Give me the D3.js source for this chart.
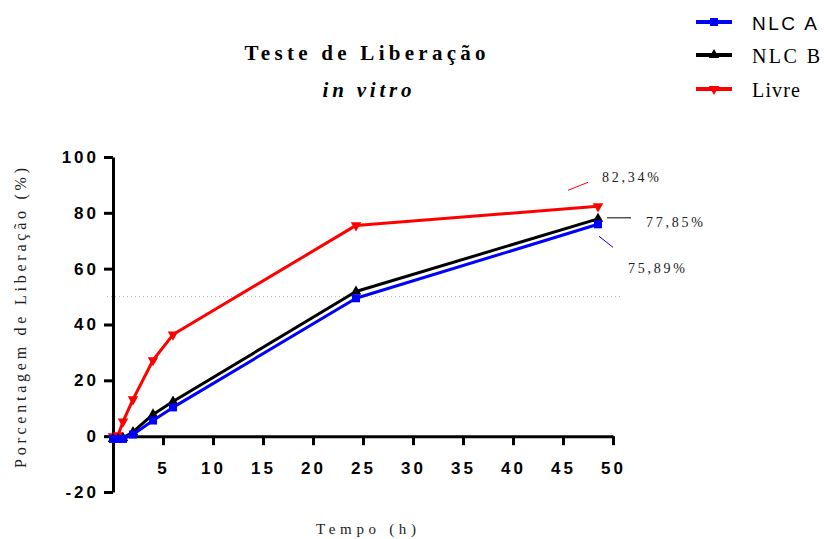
<!DOCTYPE html>
<html>
<head>
<meta charset="utf-8">
<script src="https://cdn.jsdelivr.net/npm/d3@7"></script>
<style>
  body { margin: 0; background: #fff; }
  svg { display: block; }
  .serif { font-family: 'Liberation Serif', 'DejaVu Serif', serif; }
  .sans { font-family: 'Liberation Sans', Arial, sans-serif; }
</style>
</head>
<body>
<svg width="824" height="539"></svg>
<script>
// Release test data (hours / % released)
const hours = [0, 0.5, 1, 2, 4, 6, 24.3, 48.5];
const nlcA = [-1, -1, -1, 0.6, 5.6, 10.3, 49.4, 75.89];
const nlcB = [-1, -1, -0.6, 1.5, 7.8, 12.4, 51.8, 77.85];
const livre = [0, 0.3, 5.2, 13.2, 27.2, 36.4, 75.5, 82.34];
const seriesNames = ['NLC A', 'NLC B', 'Livre'];
const endLabels = ['75,89%', '77,85%', '82,34%'];
const xTicks = [5, 10, 15, 20, 25, 30, 35, 40, 45, 50];
const yTicks = [-20, 0, 20, 40, 60, 80, 100];
const refLine = 50;

const svg = d3.select('svg');

const x = d3.scaleLinear().domain([0, 50]).range([113, 613]);
const y = d3.scaleLinear().domain([-20, 100]).range([492, 157]);

const colors = { 'NLC A': '#0000ff', 'NLC B': '#000000', Livre: '#ff0000' };
const sym = {
  'NLC A': d3.symbol().type(d3.symbolSquare).size(64),
  'NLC B': d3.symbol().type(d3.symbolTriangle).size(48),
  Livre: d3.symbol().type(d3.symbolTriangle).size(48)
};
const values = { 'NLC A': nlcA, 'NLC B': nlcB, Livre: livre };

// dotted reference line at 50 %
svg.append('line')
  .attr('x1', x(0) - 6).attr('x2', x(50) + 7)
  .attr('y1', y(refLine)).attr('y2', y(refLine))
  .attr('stroke', '#b8b8b8').attr('stroke-width', 1)
  .attr('stroke-dasharray', '1,3');

// Axes
const tickFont = g => g.selectAll('text')
  .attr('class', 'sans')
  .attr('font-family', null)
  .attr('font-weight', 'bold')
  .attr('font-size', 17)
  .attr('letter-spacing', 3)
  .attr('fill', '#000');

const yAxis = svg.append('g')
  .attr('transform', `translate(${x(0)},0)`)
  .call(d3.axisLeft(y).tickValues(yTicks).tickFormat(d => String(d))
    .tickSize(9).tickSizeOuter(0).tickPadding(5))
  .call(tickFont);

const xAxis = svg.append('g')
  .attr('transform', `translate(0,${y(0)})`)
  .call(d3.axisBottom(x).tickValues(xTicks).tickFormat(d => String(d))
    .tickSize(9).tickSizeOuter(0).tickPadding(17))
  .call(tickFont);

[xAxis, yAxis].forEach(a => {
  a.attr('font-family', null);
  a.select('.domain').attr('stroke', '#000').attr('stroke-width', 3);
  a.selectAll('.tick line').attr('stroke', '#000').attr('stroke-width', 3);
});

// Series
const line = d3.line().x((d, i) => x(hours[i])).y(d => y(d));
['Livre', 'NLC B', 'NLC A'].forEach(name => {
  const g = svg.append('g');
  g.append('path')
    .datum(values[name])
    .attr('d', line)
    .attr('fill', 'none')
    .attr('stroke', colors[name])
    .attr('stroke-width', 3)
    .attr('stroke-linejoin', 'round');
  g.selectAll('path.m')
    .data(values[name])
    .enter()
    .append('path')
    .attr('class', 'm')
    .attr('d', sym[name])
    .attr('transform', (d, i) =>
      `translate(${x(hours[i])},${y(d)})` + (name === 'Livre' ? ' rotate(180)' : ''))
    .attr('fill', colors[name]);
});

// End value labels with leader lines
const last = hours.length - 1;
const ann = [
  { name: 'Livre', label: endLabels[2], l: [-30, -16, -10, -24], t: [4, -24] },
  { name: 'NLC B', label: endLabels[1], l: [9, -1, 33, -1], t: [48, 8] },
  { name: 'NLC A', label: endLabels[0], l: [1, 12, 15, 23], t: [30, 49] }
];
ann.forEach(a => {
  const px = x(hours[last]);
  const py = y(values[a.name][last]);
  svg.append('line')
    .attr('x1', px + a.l[0]).attr('y1', py + a.l[1])
    .attr('x2', px + a.l[2]).attr('y2', py + a.l[3])
    .attr('stroke', colors[a.name]).attr('stroke-width', 1);
  svg.append('text')
    .attr('class', 'serif')
    .attr('x', px + a.t[0]).attr('y', py + a.t[1])
    .attr('font-size', 14)
    .attr('textLength', 57).attr('lengthAdjust', 'spacing')
    .attr('fill', '#222')
    .text(a.label);
});

// Titles
svg.append('text')
  .attr('class', 'serif')
  .attr('x', 365).attr('y', 60)
  .attr('text-anchor', 'middle')
  .attr('font-weight', 'bold').attr('font-size', 21)
  .attr('textLength', 241).attr('lengthAdjust', 'spacing')
  .text('Teste de Liberação');
svg.append('text')
  .attr('class', 'serif')
  .attr('x', 367).attr('y', 97)
  .attr('text-anchor', 'middle')
  .attr('font-weight', 'bold').attr('font-style', 'italic')
  .attr('font-size', 21)
  .attr('textLength', 89).attr('lengthAdjust', 'spacing')
  .text('in vitro');

svg.append('text')
  .attr('class', 'serif')
  .attr('transform', 'translate(26,318) rotate(-90)')
  .attr('text-anchor', 'middle')
  .attr('font-size', 16)
  .attr('textLength', 300).attr('lengthAdjust', 'spacing')
  .attr('fill', '#222')
  .text('Porcentagem de Liberação (%)');

svg.append('text')
  .attr('class', 'serif')
  .attr('x', 366).attr('y', 534)
  .attr('text-anchor', 'middle')
  .attr('font-size', 15)
  .attr('textLength', 100).attr('lengthAdjust', 'spacing')
  .attr('fill', '#222')
  .text('Tempo (h)');

// Legend
const legendY = [22, 55, 89];
const legendW = [65, 68, 48];
seriesNames.forEach((name, i) => {
  const g = svg.append('g').attr('transform', `translate(696,${legendY[i]})`);
  g.append('line')
    .attr('x1', 0).attr('x2', 36)
    .attr('stroke', colors[name]).attr('stroke-width', 4);
  g.append('path')
    .attr('d', sym[name])
    .attr('transform', 'translate(18,0)' + (name === 'Livre' ? ' rotate(180)' : ''))
    .attr('fill', colors[name]);
  g.append('text')
    .attr('class', name === 'NLC A' ? 'sans' : 'serif')
    .attr('x', 56).attr('y', 8)
    .attr('font-size', name === 'NLC A' ? 19 : 20)
    .attr('textLength', legendW[i]).attr('lengthAdjust', 'spacing')
    .attr('fill', '#000')
    .text(name);
});
</script>
</body>
</html>
